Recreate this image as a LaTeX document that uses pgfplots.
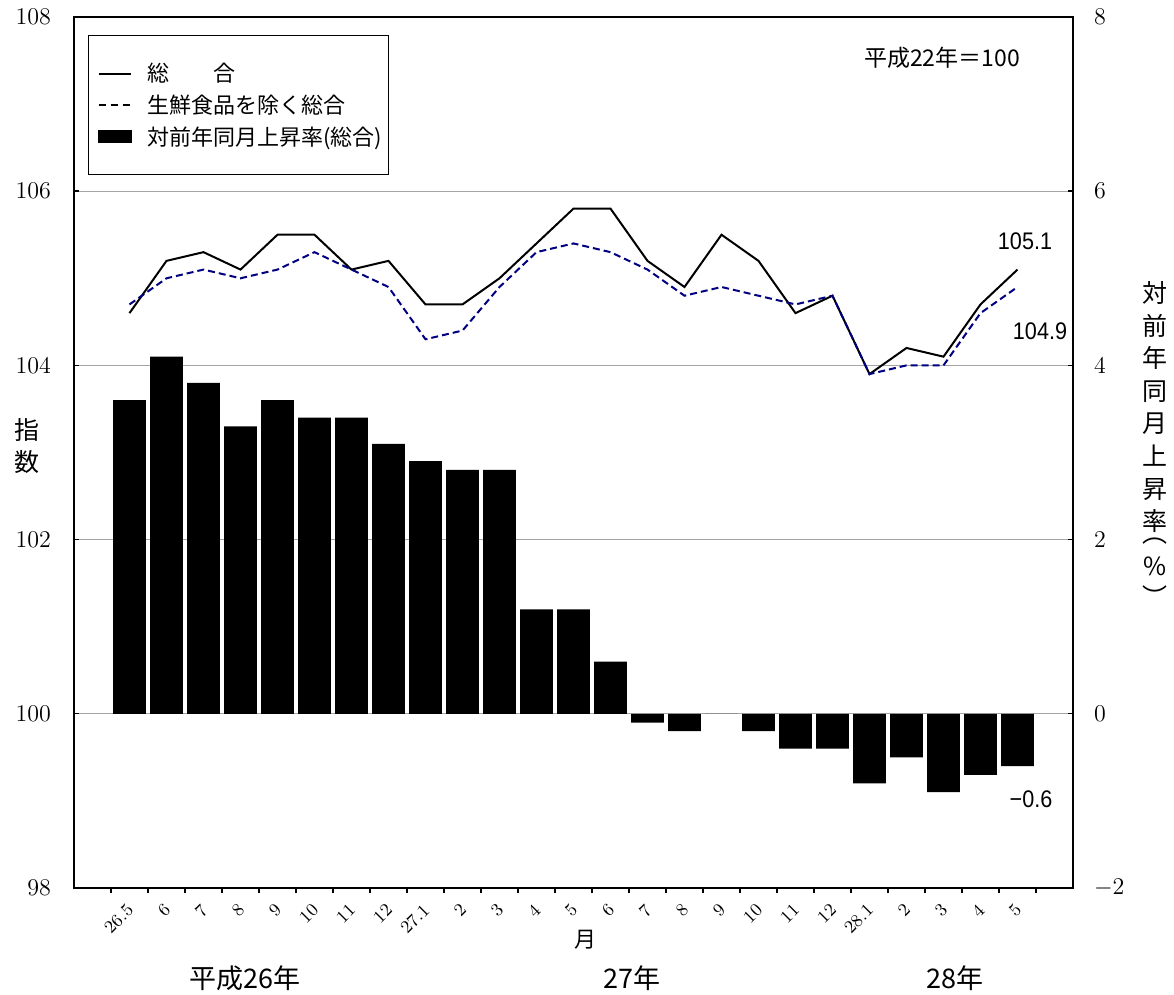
\documentclass[border=0pt]{standalone}
\usepackage{fontspec}
\usepackage{graphicx}
\usepackage{pgfplots}
\pgfplotsset{compat=1.18}
\newfontfamily\jp{Noto Sans CJK JP}
\newfontfamily\ar{Liberation Sans}
\definecolor{navy}{RGB}{0,0,128}
\definecolor{gridgray}{RGB}{165,165,165}

\begin{document}
\begin{tikzpicture}
\path[use as bounding box] (-37pt,-53.5pt) rectangle (550pt,444pt);

% ---------- bars: right axis (rate, %) ----------
\begin{axis}[
  at={(0,0)}, anchor=south west,
  scale only axis, width=499.5pt, height=435.5pt,
  xmin=-1.5, xmax=25.5, ymin=-2, ymax=8,
  ytick={-2,0,...,8},
  ymajorgrids, grid style={gridgray, line width=0.5pt},
  ytick pos=right, yticklabel pos=right,
  xtick={0,...,24},
  xticklabels={26.5,6,7,8,9,10,11,12,27.1,2,3,4,5,6,7,8,9,10,11,12,28.1,2,3,4,5},
  x tick label style={rotate=45, anchor=north east, font=\fontsize{9}{10}\selectfont, inner sep=1pt, xshift=-3.5pt, yshift=-1pt},
  major x tick style={draw=none},
  minor xtick={-0.5,0.5,...,24.5},
  minor tick length=2.6pt,
  xtick pos=bottom,
  major tick length=2.6pt,
  tick style={black, line width=0.7pt},
  axis line style={line width=1.4pt},
  y tick label style={font=\fontsize{11.5}{13}\selectfont, xshift=7pt},
  ybar, bar width=0.89,
]
\addplot[fill=black, draw=none] coordinates {
 (0,3.6) (1,4.1) (2,3.8) (3,3.3) (4,3.6) (5,3.4) (6,3.4) (7,3.1) (8,2.9)
 (9,2.8) (10,2.8) (11,1.2) (12,1.2) (13,0.6) (14,-0.1) (15,-0.2) (16,0.0)
 (17,-0.2) (18,-0.4) (19,-0.4) (20,-0.8) (21,-0.5) (22,-0.9) (23,-0.7) (24,-0.6)
};
\end{axis}

% ---------- lines: left axis (index) ----------
\begin{axis}[
  at={(0,0)}, anchor=south west,
  scale only axis, width=499.5pt, height=435.5pt,
  xmin=-1.5, xmax=25.5, ymin=98, ymax=108,
  ytick={98,100,...,108},
  ytick pos=left,
  xtick=\empty,
  major tick length=2.6pt,
  tick style={black, line width=0.7pt},
  axis line style={line width=1.4pt},
  yticklabel style={font=\fontsize{11.5}{13}\selectfont, xshift=-8pt},
  clip=false,
  legend cell align=left,
  legend style={at={(axis description cs:0.014,0.9793)}, anchor=north west,
    draw=black, line width=0.7pt, fill=white,
    inner xsep=4.5pt, inner ysep=11pt,
    font=\jp\fontsize{11}{13}\selectfont,
    row sep=0pt,
    nodes={inner sep=0pt, text height=12.1pt, text depth=3.7pt},
    /tikz/every odd column/.append style={column sep=7.5pt}},
]
\addplot[black, line width=1pt,
  legend image code/.code={\draw[black, line width=1pt] (0pt,0pt) -- (16pt,0pt);}] coordinates {
 (0,104.6) (1,105.2) (2,105.3) (3,105.1) (4,105.5) (5,105.5) (6,105.1) (7,105.2)
 (8,104.7) (9,104.7) (10,105.0) (11,105.4) (12,105.8) (13,105.8) (14,105.2)
 (15,104.9) (16,105.5) (17,105.2) (18,104.6) (19,104.8) (20,103.9) (21,104.2)
 (22,104.1) (23,104.7) (24,105.1)
};
\addplot[navy, line width=1pt, dash pattern=on 3.5pt off 2pt,
  legend image code/.code={\draw[black, line width=1pt, dash pattern=on 3.5pt off 2.5pt] (0pt,0pt) -- (16pt,0pt);}] coordinates {
 (0,104.7) (1,105.0) (2,105.1) (3,105.0) (4,105.1) (5,105.3) (6,105.1) (7,104.9)
 (8,104.3) (9,104.4) (10,104.9) (11,105.3) (12,105.4) (13,105.3) (14,105.1)
 (15,104.8) (16,104.9) (17,104.8) (18,104.7) (19,104.8) (20,103.9) (21,104.0)
 (22,104.0) (23,104.6) (24,104.9)
};
\addlegendimage{legend image code/.code={\fill[black] (0pt,-3pt) rectangle (16.5pt,3pt);}}
\legend{総　　合, 生鮮食品を除く総合, 対前年同月上昇率(総合)\hspace*{-1.5pt}}
\end{axis}

% ---------- texts ----------
\node[font=\jp\fontsize{12.5}{16.25}\selectfont, align=center] at (-23.7pt,221pt) {指\\数};
\node[font=\jp\fontsize{12.5}{16.3}\selectfont, align=center] at (540.5pt,222pt)
  {対\\前\\年\\同\\月\\上\\昇\\率\\[-10.5pt]︵\\[0.5pt]\%\\[-1pt]︶};
\node[font=\jp\fontsize{11}{13}\selectfont] at (255.5pt,-26pt) {月};
\node[font=\jp\fontsize{13.5}{15}\selectfont] at (85.5pt,-45pt) {平成26年};
\node[font=\jp\fontsize{13.5}{15}\selectfont] at (279pt,-45pt) {27年};
\node[font=\jp\fontsize{13.5}{15}\selectfont] at (440.5pt,-45pt) {28年};
\node[font=\jp\fontsize{11.5}{13}\selectfont] at (434pt,415pt) {平成22年＝100};
\node[font=\ar\fontsize{12}{14}\selectfont] at (475.5pt,323.5pt) {\scalebox{0.9}[1]{105.1}};
\node[font=\ar\fontsize{12}{14}\selectfont] at (483pt,278.5pt) {\scalebox{0.9}[1]{104.9}};
\node[font=\ar\fontsize{12}{14}\selectfont] at (478.5pt,44.5pt) {\scalebox{0.9}[1]{−0.6}};
\end{tikzpicture}
\end{document}
